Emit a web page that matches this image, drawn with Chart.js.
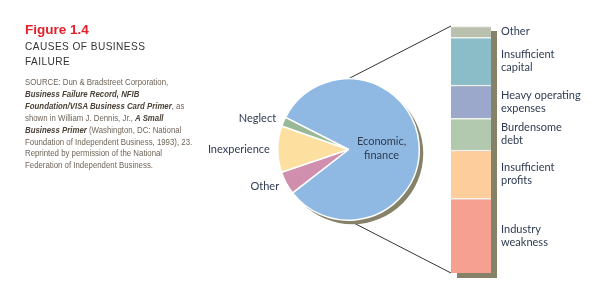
<!DOCTYPE html>
<html>
<head>
<meta charset="utf-8">
<script src="https://cdn.jsdelivr.net/npm/chart.js@4.4.0/dist/chart.umd.min.js"></script>
<style>
  body { margin: 0; background: #fff; }
  #page { position: relative; width: 613px; height: 281px; overflow: hidden; }
  #lines { position: absolute; left: 0; top: 0; z-index: 0; }
  #pieChart { position: absolute; left: 200px; top: 69px; z-index: 1; }
  #barChart { position: absolute; left: 451px; top: 26px; z-index: 1; }
  #caption { position: absolute; left: 25px; top: 22px; z-index: 2; font-family: "Liberation Sans", Arial, sans-serif; }
  .fig { color: #e4202b; font-weight: bold; font-size: 13.5px; line-height: 15px; }
  .title { color: #333; font-size: 11.5px; line-height: 15px; letter-spacing: 0.5px; margin-top: 2px; transform: scaleX(0.88); transform-origin: left top; white-space: nowrap; }
  .src { color: #6f6458; font-size: 9px; line-height: 11.9px; margin-top: 8px; white-space: nowrap; transform: scaleX(0.87); transform-origin: left top; }
  .src b { color: #4b4137; font-style: italic; }
</style>
</head>
<body>
<div id="page">
  <canvas id="lines" width="613" height="281"></canvas>
  <canvas id="pieChart" width="229" height="161"></canvas>
  <canvas id="barChart" width="162" height="255"></canvas>
  <div id="caption">
    <div class="fig">Figure 1.4</div>
    <div class="title">CAUSES OF BUSINESS<br>FAILURE</div>
    <div class="src">SOURCE: Dun &amp; Bradstreet Corporation,<br>
      <b>Business Failure Record, NFIB</b><br>
      <b>Foundation/VISA Business Card Primer</b>, as<br>
      shown in William J. Dennis, Jr., <b>A Small</b><br>
      <b>Business Primer</b> (Washington, DC: National<br>
      Foundation of Independent Business, 1993), 23.<br>
      Reprinted by permission of the National<br>
      Federation of Independent Business.</div>
  </div>
</div>
<script>
// pie: causes of failure
const pieLabels = [['Economic,', 'finance'], ['Other'], ['Inexperience'], ['Neglect']];
const pieValues = [82, 5.3, 10.6, 2.1];
const pieColors = ['#8fb9e2', '#d08fac', '#fde0a0', '#98b896'];

// bar: breakdown of economic/finance (bottom to top)
const barLabels = [['Industry', 'weakness'], ['Insufficient', 'profits'], ['Burdensome', 'debt'],
  ['Heavy operating', 'expenses'], ['Insufficient', 'capital'], ['Other']];
const barValues = [30.2, 19.6, 12.8, 13.5, 19.3, 4.6];
const barColors = ['#f6a092', '#fdcd9c', '#b2c9b0', '#9ba8cb', '#8bbdc9', '#b9c1ae'];

const shadowColor = '#858269';
const textColor = '#2e3b52';
const labelFont = '11px Lato, "Noto Sans", sans-serif';

Chart.defaults.animation = false;

const pieShadow = {
  id: 'pieShadow',
  beforeDatasetsDraw(chart) {
    const arc = chart.getDatasetMeta(0).data[0];
    const ctx = chart.ctx;
    ctx.save();
    ctx.fillStyle = shadowColor;
    ctx.beginPath();
    ctx.arc(arc.x + 4, arc.y + 4, arc.outerRadius, 0, Math.PI * 2);
    ctx.fill();
    ctx.restore();
  }
};

const pieText = {
  id: 'pieText',
  afterDatasetsDraw(chart) {
    const ctx = chart.ctx;
    ctx.save();
    ctx.font = labelFont;
    ctx.fillStyle = textColor;
    ctx.textBaseline = 'middle';
    chart.getDatasetMeta(0).data.forEach((arc, i) => {
      const mid = (arc.startAngle + arc.endAngle) / 2;
      const lines = pieLabels[i];
      if (i === 0) {
        const r = arc.outerRadius * 0.47;
        ctx.textAlign = 'center';
        const x = arc.x + Math.cos(mid) * r;
        const y = arc.y + Math.sin(mid) * r + 2;
        lines.forEach((t, k) => ctx.fillText(t, x, y + (k - (lines.length - 1) / 2) * 13.5));
      } else {
        const r = arc.outerRadius + 8;
        ctx.textAlign = 'right';
        ctx.fillText(lines[0], arc.x + Math.cos(mid) * r, arc.y + Math.sin(mid) * r);
      }
    });
    ctx.restore();
  }
};

const pieChart = new Chart(document.getElementById('pieChart'), {
  type: 'pie',
  data: {
    labels: pieLabels.map(l => l.join(' ')),
    datasets: [{
      data: pieValues,
      backgroundColor: pieColors,
      borderColor: '#ffffff',
      borderWidth: 1.5
    }]
  },
  options: {
    responsive: false,
    rotation: 297,
    layout: { padding: { left: 77, right: 9, top: 9, bottom: 9 } },
    plugins: { legend: { display: false }, tooltip: { enabled: false } }
  },
  plugins: [pieShadow, pieText]
});

const barShadow = {
  id: 'barShadow',
  beforeDatasetsDraw(chart) {
    const ctx = chart.ctx;
    const base = chart.getDatasetMeta(0).data[0];
    const top = chart.getDatasetMeta(barValues.length - 1).data[0];
    ctx.save();
    ctx.fillStyle = shadowColor;
    ctx.fillRect(base.x - base.width / 2 + 6, top.y + 5, base.width, base.base - top.y);
    ctx.restore();
  }
};

const barText = {
  id: 'barText',
  afterDatasetsDraw(chart) {
    const ctx = chart.ctx;
    ctx.save();
    ctx.font = labelFont;
    ctx.fillStyle = textColor;
    ctx.textAlign = 'left';
    ctx.textBaseline = 'middle';
    barLabels.forEach((lines, i) => {
      const bar = chart.getDatasetMeta(i).data[0];
      const cy = (bar.y + bar.base) / 2;
      const x = bar.x + bar.width / 2 + 10;
      lines.forEach((t, k) => ctx.fillText(t, x, cy + (k - (lines.length - 1) / 2) * 13));
    });
    ctx.restore();
  }
};

const barChart = new Chart(document.getElementById('barChart'), {
  type: 'bar',
  data: {
    labels: ['Economic, finance'],
    datasets: barValues.map((v, i) => ({
      label: barLabels[i].join(' '),
      data: [v],
      backgroundColor: barColors[i],
      borderColor: '#eef2ea',
      borderWidth: { top: 1.5, bottom: 0, left: 0, right: 0 },
      borderSkipped: false,
      barPercentage: 1,
      categoryPercentage: 1
    }))
  },
  options: {
    responsive: false,
    layout: { padding: { top: 0, left: 0, right: 122, bottom: 8 } },
    scales: {
      x: { display: false, stacked: true },
      y: { display: false, stacked: true, min: 0, max: 100 }
    },
    plugins: { legend: { display: false }, tooltip: { enabled: false } }
  },
  plugins: [barShadow, barText]
});

// leader lines from the pie to the bar, in page coordinates
function drawLeaders() {
  const ctx = document.getElementById('lines').getContext('2d');
  const pc = pieChart.canvas, bc = barChart.canvas;
  const arc = pieChart.getDatasetMeta(0).data[0];
  const px = pc.offsetLeft + arc.x, py = pc.offsetTop + arc.y, r = arc.outerRadius;
  const low = barChart.getDatasetMeta(0).data[0];
  const high = barChart.getDatasetMeta(barValues.length - 1).data[0];
  const bx = bc.offsetLeft + low.x - low.width / 2;
  ctx.strokeStyle = '#333';
  ctx.lineWidth = 1;
  ctx.beginPath();
  ctx.moveTo(px, py - r);
  ctx.lineTo(bx, bc.offsetTop + high.y);
  ctx.moveTo(px, py + r);
  ctx.lineTo(bx, bc.offsetTop + low.base);
  ctx.stroke();
}
drawLeaders();
</script>
</body>
</html>
